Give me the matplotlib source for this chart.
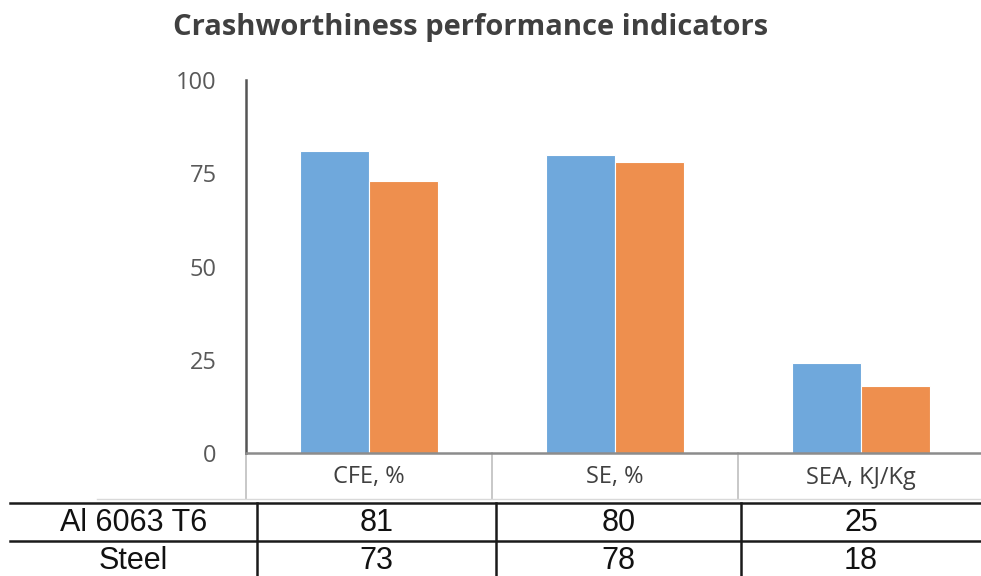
import numpy as np
import matplotlib
matplotlib.use("Agg")
import matplotlib.pyplot as plt
from matplotlib.lines import Line2D

# chart data
categories = ["CFE, %", "SE, %", "SEA, KJ/Kg"]
seriesNames = ["Al 6063 T6", "Steel"]
alValues = [81, 80, 24.2]
steelValues = [73, 78, 18]
tableRows = [["81", "80", "25"], ["73", "78", "18"]]
yTicks = [0, 25, 50, 75, 100]

blueColor = "#6fa8dc"
orangeColor = "#ee8f4e"

W, H = 981, 576
fig = plt.figure(figsize=(W / 100, H / 100), dpi=100)

def fx(px) :
    return px / W

def fy(py) :
    return 1 - py / H

axLeft, axRight, axTop, axBottom = 246, 981, 80, 453
ax = fig.add_axes([fx(axLeft), fy(axBottom), fx(axRight - axLeft), (axBottom - axTop) / H])

catWidthPx = 246
x = np.arange(len(categories))
barWidth = 0.28
ax.bar(x - 0.142, alValues, width=barWidth, color=blueColor, edgecolor="white", linewidth=0.8, zorder=2)
ax.bar(x + 0.142, steelValues, width=barWidth, color=orangeColor, edgecolor="white", linewidth=0.8, zorder=2)

ax.set_xlim(-0.5, -0.5 + (axRight - axLeft) / catWidthPx)
ax.set_ylim(0, 100)
ax.set_yticks(yTicks)
ax.set_yticklabels([str(t) for t in yTicks], fontsize=17, color="#595959", family="Open Sans")
ax.tick_params(axis="y", length=0, pad=21)
ax.set_xticks(x)
ax.set_xticklabels(categories, fontsize=17, color="#404040", family="Open Sans")
ax.tick_params(axis="x", length=0, pad=9)

for side in ["top", "right"] :
    ax.spines[side].set_visible(False)
ax.spines["left"].set_color("#555555")
ax.spines["left"].set_linewidth(1.8)
ax.spines["bottom"].set_color("#8c8c8c")
ax.spines["bottom"].set_linewidth(1.8)

# category row separators below the axis
trans = ax.get_xaxis_transform()
rowBottom = 499
rowDepth = (rowBottom - axBottom) / (axBottom - axTop)
for sep in [-0.5, 0.5, 1.5] :
    ax.plot([sep, sep], [0, -rowDepth], transform=trans, color="#bfbfbf", linewidth=1.2, clip_on=False)
fig.add_artist(Line2D([fx(97), fx(981)], [fy(rowBottom), fy(rowBottom)], color="#d9d9d9", linewidth=1.0))

fig.text(fx(471), fy(28), "Crashworthiness performance indicators", ha="center", va="center",
         fontsize=21, fontweight="bold", color="#404040", family="Open Sans")

# data table under the chart
lineColor = "#1a1a1a"
for yLine in [503, 541] :
    fig.add_artist(Line2D([fx(10), fx(981)], [fy(yLine), fy(yLine)], color=lineColor, linewidth=1.8))
colEdges = [10, 257, 496, 741, 981]
for xLine in colEdges[1:4] :
    fig.add_artist(Line2D([fx(xLine), fx(xLine)], [fy(503), fy(576)], color=lineColor, linewidth=1.8))

rowCenters = [523, 561]
for rowIdx, rowName in enumerate(seriesNames) :
    fig.text(fx((colEdges[0] + colEdges[1]) / 2), fy(rowCenters[rowIdx]), rowName,
             ha="center", va="center", fontsize=22, color="#111111", family="Liberation Sans")
    for colIdx, cell in enumerate(tableRows[rowIdx]) :
        cx = (colEdges[colIdx + 1] + colEdges[colIdx + 2]) / 2
        fig.text(fx(cx), fy(rowCenters[rowIdx]), cell, ha="center", va="center",
                 fontsize=22, color="#111111", family="Liberation Sans")

fig.savefig("out.png", dpi=100)
